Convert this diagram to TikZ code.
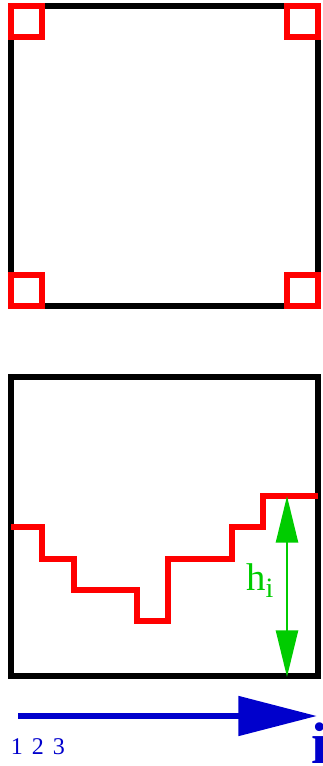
\documentclass[tikz,border=0pt]{standalone}
\usepackage{fontspec}
\setmainfont{Liberation Serif}
\usetikzlibrary{arrows.meta}
\definecolor{cornerred}{RGB}{255,0,0}
\definecolor{hgreen}{RGB}{0,204,0}
\definecolor{axisblue}{RGB}{0,0,204}

\begin{document}
\begin{tikzpicture}[x=0.75pt, y=-0.75pt,
  frame/.style={draw=black, line width=4.5pt},
  corner/.style={draw=cornerred, line width=4.5pt},
  stair/.style={draw=cornerred, line width=4.5pt},
  hdim/.style={draw=hgreen, line width=1.9pt,
    {Triangle[length=35pt,width=16.5pt]}-{Triangle[length=35pt,width=16.5pt]}},
  iaxis/.style={draw=axisblue, line width=4.5pt,
    -{Triangle[length=59pt,width=29pt]}}]

\useasboundingbox (0,0) rectangle (322,766);

% Box with corners
\draw[frame] (11,6) rectangle (318,306);
\draw[corner] (11,6) rectangle (42,37);
\draw[corner] (287,6) rectangle (318,37);
\draw[corner] (11,275) rectangle (42,306);
\draw[corner] (287,275) rectangle (318,306);

% Box with height profile
\draw[frame] (11,377) rectangle (318,676);
\draw[stair] (11,527) -- (42,527) -- (42,559) -- (74,559) -- (74,590)
  -- (137,590) -- (137,621) -- (168,621) -- (168,559) -- (232,559)
  -- (232,527) -- (263,527) -- (263,496) -- (318,496);

\coordinate (htop) at (287,496);
\coordinate (hbot) at (287,677);
\draw[hdim] (htop) -- (hbot);
\node[anchor=base west, inner sep=0, text=hgreen] (hlabel) at (246,590)
  {\fontsize{29}{30}\selectfont h\raisebox{-5.25pt}{\fontsize{21}{22}\selectfont i}};

% Axis
\coordinate (istart) at (18,716);
\coordinate (iend) at (317,716);
\draw[iaxis] (istart) -- (iend);
\node[anchor=base west, inner sep=0, text=axisblue] (inums) at (10.5,754)
  {\fontsize{18}{20}\selectfont\spaceskip=6.75pt 1 2 3};
\node[anchor=base west, inner sep=0, text=axisblue] (ilabel) at (311,763)
  {\fontsize{44}{46}\selectfont\bfseries i};
\end{tikzpicture}
\end{document}
